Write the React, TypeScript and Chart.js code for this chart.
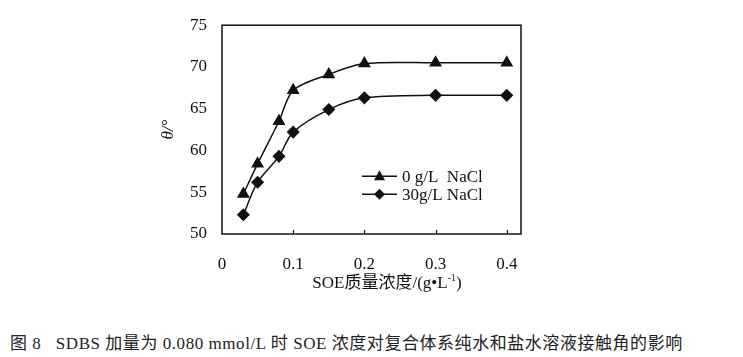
import React, { useEffect, useRef } from "react";
import { Chart, registerables } from "chart.js";

Chart.register(...registerables);

const xValues = [0.03, 0.05, 0.08, 0.1, 0.15, 0.2, 0.3, 0.4];
const seriesNoSalt = [54.8, 58.4, 63.5, 67.2, 69.1, 70.4, 70.5, 70.5];
const seriesSalt = [52.3, 56.2, 59.3, 62.2, 64.9, 66.3, 66.6, 66.6];
const seriesLabels = ["0 g/L  NaCl", "30g/L NaCl"];
const xTicks = [0, 0.1, 0.2, 0.3, 0.4];
const yTicks = [50, 55, 60, 65, 70, 75];
const xAxisMax = 0.42;
const yTitle = "θ/°";
const caption = "图 8\u00a0\u00a0\u00a0SDBS 加量为 0.080 mmol/L 时 SOE 浓度对复合体系纯水和盐水溶液接触角的影响";

const FONT = "'Liberation Serif', 'Times New Roman', 'Noto Sans CJK SC', serif";

const framePlugin = {
  id: "frame",
  afterDraw(chart: any) {
    const { ctx, chartArea } = chart;
    const xs = chart.scales.x;
    ctx.save();
    ctx.strokeStyle = "#111";
    ctx.lineWidth = 1.5;
    ctx.strokeRect(chartArea.left, chartArea.top, chartArea.right - chartArea.left, chartArea.bottom - chartArea.top);
    ctx.lineWidth = 1.2;
    xTicks.forEach((v) => {
      if (v === 0) return;
      const px = Math.round(xs.getPixelForValue(v)) + 0.5;
      ctx.beginPath();
      ctx.moveTo(px, chartArea.bottom);
      ctx.lineTo(px, chartArea.bottom - 4);
      ctx.stroke();
    });
    ctx.restore();
  },
};

const legendPlugin = {
  id: "customLegend",
  afterDraw(chart: any) {
    const { ctx, chartArea } = chart;
    ctx.save();
    chart.data.datasets.forEach((ds: any, i: number) => {
      const y = chartArea.top + 151 + i * 18;
      const x0 = chartArea.left + 140;
      const x1 = x0 + 35;
      ctx.strokeStyle = "#111";
      ctx.lineWidth = 1.5;
      ctx.beginPath();
      ctx.moveTo(x0, y);
      ctx.lineTo(x1, y);
      ctx.stroke();
      const cx = (x0 + x1) / 2;
      ctx.fillStyle = "#111";
      ctx.beginPath();
      if (ds.pointStyle === "triangle") {
        ctx.moveTo(cx, y - 6);
        ctx.lineTo(cx + 5.5, y + 4);
        ctx.lineTo(cx - 5.5, y + 4);
      } else {
        ctx.moveTo(cx, y - 5.5);
        ctx.lineTo(cx + 5.5, y);
        ctx.lineTo(cx, y + 5.5);
        ctx.lineTo(cx - 5.5, y);
      }
      ctx.closePath();
      ctx.fill();
      ctx.font = `17px ${FONT}`;
      ctx.textBaseline = "middle";
      ctx.textAlign = "left";
      ctx.fillText(ds.label, x1 + 5, y + 1);
    });
    ctx.restore();
  },
};

export default function App() {
  const canvasRef = useRef<HTMLCanvasElement>(null);

  useEffect(() => {
    const canvas = canvasRef.current;
    if (!canvas) return;
    const chart = new Chart(canvas, {
      type: "line",
      data: {
        datasets: [
          {
            label: seriesLabels[0],
            data: xValues.map((x, i) => ({ x, y: seriesNoSalt[i] })),
            borderColor: "#111",
            backgroundColor: "#111",
            borderWidth: 1.5,
            pointStyle: "triangle",
            pointRadius: 6,
            tension: 0.3,
          },
          {
            label: seriesLabels[1],
            data: xValues.map((x, i) => ({ x, y: seriesSalt[i] })),
            borderColor: "#111",
            backgroundColor: "#111",
            borderWidth: 1.5,
            pointStyle: "rectRot",
            pointRadius: 5.5,
            tension: 0.3,
          },
        ],
      },
      options: {
        responsive: false,
        animation: false,
        events: [],
        layout: { padding: { left: 158, top: 24, right: 222, bottom: 46 } },
        plugins: { legend: { display: false }, tooltip: { enabled: false } },
        scales: {
          x: {
            type: "linear",
            min: 0,
            max: xAxisMax,
            afterBuildTicks: (scale: any) => {
              scale.ticks = xTicks.map((v) => ({ value: v }));
            },
            afterFit: (scale: any) => {
              scale.height = 40;
            },
            grid: { display: false, drawTicks: false },
            border: { display: false },
            ticks: {
              padding: 20,
              color: "#111",
              font: { family: FONT, size: 17 },
              maxRotation: 0,
              autoSkip: false,
              callback: (v: any) => String(v),
            },
          },
          y: {
            type: "linear",
            min: 50,
            max: 75,
            afterBuildTicks: (scale: any) => {
              scale.ticks = yTicks.map((v) => ({ value: v }));
            },
            afterFit: (scale: any) => {
              scale.width = 64;
            },
            grid: { display: false, drawTicks: false },
            border: { display: false },
            ticks: {
              padding: 15,
              color: "#111",
              font: { family: FONT, size: 17 },
              callback: (v: any) => String(v),
            },
            title: {
              display: true,
              text: yTitle,
              color: "#111",
              padding: { top: 0, bottom: 0 },
              font: { family: FONT, size: 17, style: "italic" },
            },
          },
        },
      },
      plugins: [framePlugin, legendPlugin],
    });
    return () => chart.destroy();
  }, []);

  return (
    <div style={{ position: "fixed", left: 0, top: 0, width: 743, height: 357, background: "#fff", overflow: "hidden" }}>
      <canvas ref={canvasRef} width={743} height={320} style={{ position: "absolute", left: 0, top: 0 }} />
      <div
        style={{
          position: "absolute",
          left: 387,
          top: 273,
          transform: "translateX(-50%)",
          whiteSpace: "nowrap",
          fontFamily: FONT,
          fontSize: 17,
          color: "#111",
          lineHeight: "20px",
        }}
      >
        SOE质量浓度/(g•L<sup style={{ fontSize: 10, verticalAlign: "7px", lineHeight: 0 }}>-1</sup>)
      </div>
      <div
        style={{
          position: "absolute",
          left: 10,
          top: 334,
          whiteSpace: "nowrap",
          fontFamily: FONT,
          fontSize: 17,
          letterSpacing: "0.55px",
          color: "#222",
          lineHeight: "19px",
        }}
      >
        {caption}
      </div>
    </div>
  );
}
